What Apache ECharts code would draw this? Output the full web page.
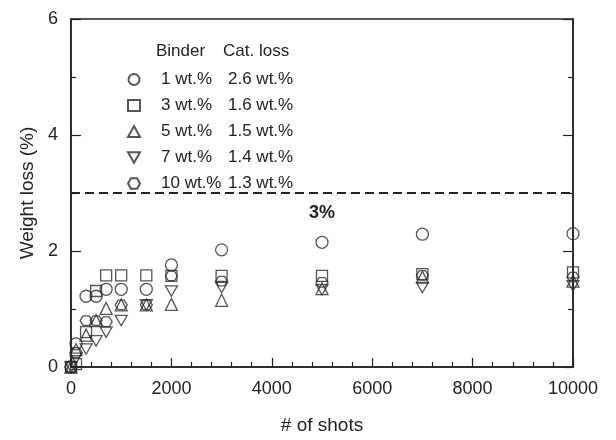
<!DOCTYPE html>
<html>
<head>
<meta charset="utf-8">
<script src="https://cdn.jsdelivr.net/npm/echarts@6/dist/echarts.min.js"></script>
<style>
  html, body { margin: 0; padding: 0; background: #fff; }
  #chart { width: 616px; height: 440px; }
</style>
</head>
<body>
<div id="chart"></div>
<script>
// shots (x) and weight loss (%)
const shots = [0, 100, 300, 500, 700, 1000, 1500, 2000, 3000, 5000, 7000, 10000]
const binder1 = [0, 0.40, 1.22, 1.22, 1.34, 1.34, 1.34, 1.76, 2.02, 2.15, 2.29, 2.30]
const binder3 = [0, 0.05, 0.60, 1.31, 1.58, 1.58, 1.58, 1.57, 1.57, 1.57, 1.60, 1.63]
const binder5 = [0, 0.30, 0.55, 0.80, 1.01, 1.07, 1.07, 1.08, 1.15, 1.35, 1.55, 1.48]
const binder7 = [0, 0.15, 0.31, 0.45, 0.60, 0.80, 1.07, 1.31, 1.37, 1.33, 1.37, 1.40]
const binder10 = [0, 0.25, 0.80, 0.80, 0.78, 1.07, 1.07, 1.57, 1.48, 1.46, 1.58, 1.55]

const binderNames = ['1 wt.%', '3 wt.%', '5 wt.%', '7 wt.%', '10 wt.%']
const catLoss = ['2.6 wt.%', '1.6 wt.%', '1.5 wt.%', '1.4 wt.%', '1.3 wt.%']
const limitValue = 3
const limitLabel = '3%'

const hexagon = 'path://M0,8.66L5,0L15,0L20,8.66L15,17.32L5,17.32Z'
const symbols = ['circle', 'rect', 'triangle', 'path://M0,0L20,0L10,17.32Z', hexagon]
const sizes = [12, 11, 12, 12, [12, 11]]
const values = [binder1, binder3, binder5, binder7, binder10]

const ink = '#222'
const font = 'Liberation Sans, Arial, sans-serif'

const series = values.map(function (vals, i) {
  return {
    name: binderNames[i],
    type: 'scatter',
    symbol: symbols[i],
    symbolSize: sizes[i],
    symbolKeepAspect: true,
    data: shots.map(function (s, k) { return [s, vals[k]] }),
    itemStyle: {
      color: 'transparent',
      borderColor: '#2a2a2a',
      borderWidth: 1.3,
    },
    emphasis: { disabled: true },
  }
})

// dashed 3 % limit line
series[0].markLine = {
  silent: true,
  symbol: 'none',
  lineStyle: { color: ink, type: [9, 5], width: 2 },
  label: {
    show: true,
    position: 'insideMiddleBottom',
    formatter: limitLabel,
    color: ink,
    fontFamily: font,
    fontSize: 18,
    fontWeight: 'bold',
    distance: 11,
  },
  data: [{ yAxis: limitValue }],
}

const option = {
  animation: false,
  grid: {
    left: 71,
    right: 43,
    top: 19,
    bottom: 72,
    show: true,
    borderColor: ink,
    borderWidth: 1.5,
  },
  legend: {
    orient: 'vertical',
    left: 122,
    top: 66,
    itemWidth: 12,
    itemHeight: 11,
    itemGap: 9,
    selectedMode: false,
    data: binderNames,
    formatter: function (name) {
      const i = binderNames.indexOf(name)
      return '{a|' + name + '}{b|' + catLoss[i] + '}'
    },
    textStyle: {
      color: ink,
      fontFamily: font,
      fontSize: 17,
      rich: {
        a: { width: 67, padding: [0, 0, 0, 16], fontSize: 17, fontFamily: font, color: ink },
        b: { fontSize: 17, fontFamily: font, color: ink },
      },
    },
  },
  graphic: [
    {
      type: 'text',
      left: 156,
      top: 43,
      style: { text: 'Binder', font: '17px ' + font, fill: ink },
    },
    {
      type: 'text',
      left: 223,
      top: 43,
      style: { text: 'Cat. loss', font: '17px ' + font, fill: ink },
    },
  ],
  xAxis: {
    type: 'value',
    min: 0,
    max: 10000,
    interval: 2000,
    name: '# of shots',
    nameLocation: 'middle',
    nameGap: 49,
    nameTextStyle: { color: ink, fontFamily: font, fontSize: 19 },
    axisLine: { show: true, lineStyle: { color: ink, width: 1.5 } },
    axisTick: { show: true, inside: true, length: 9, lineStyle: { color: ink, width: 1.2 } },
    minorTick: { show: true, splitNumber: 5, length: 5, lineStyle: { color: ink, width: 1.2 } },
    axisLabel: {
      color: ink, fontFamily: font, fontSize: 18, margin: 13,
      formatter: function (v) { return String(v) },
    },
    splitLine: { show: false },
  },
  yAxis: [
    {
      type: 'value',
      min: 0,
      max: 6,
      interval: 2,
      name: 'Weight loss (%)',
      nameLocation: 'middle',
      nameGap: 33,
      nameTextStyle: { color: ink, fontFamily: font, fontSize: 19 },
      axisLine: { show: true, lineStyle: { color: ink, width: 1.5 } },
      axisTick: { show: true, inside: true, length: 10, lineStyle: { color: ink, width: 1.2 } },
      minorTick: { show: true, splitNumber: 2, length: 5, lineStyle: { color: ink, width: 1.2 } },
      axisLabel: { color: ink, fontFamily: font, fontSize: 18, margin: 13 },
      splitLine: { show: false },
    },
    {
      type: 'value',
      position: 'right',
      min: 0,
      max: 6,
      interval: 2,
      axisLine: { show: true, lineStyle: { color: ink, width: 1.5 } },
      axisTick: { show: true, inside: true, length: 10, lineStyle: { color: ink, width: 1.2 } },
      minorTick: { show: true, splitNumber: 2, length: 5, lineStyle: { color: ink, width: 1.2 } },
      axisLabel: { show: false },
      splitLine: { show: false },
    },
  ],
  series: series,
}

const myChart = echarts.init(document.getElementById('chart'))
myChart.setOption(option, true)
</script>
</body>
</html>
